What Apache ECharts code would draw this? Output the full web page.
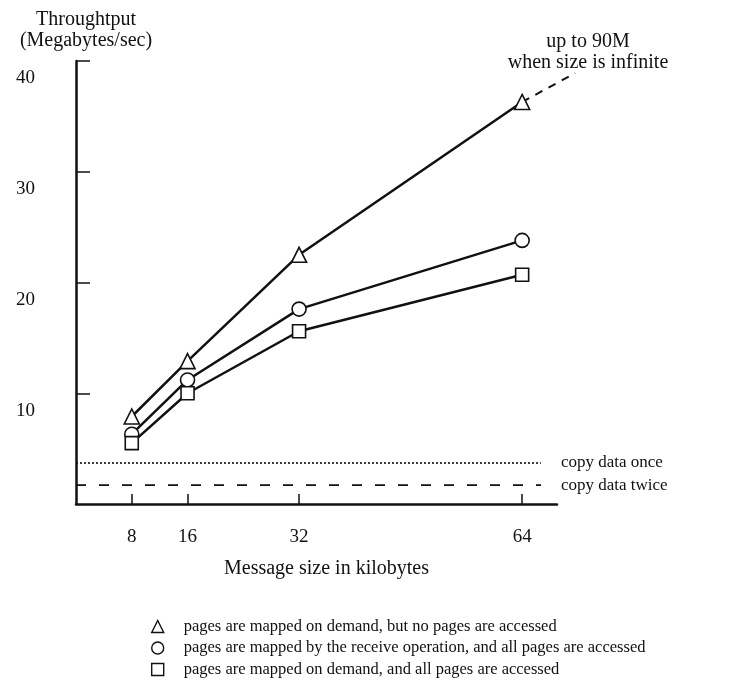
<!DOCTYPE html>
<html>
<head>
<meta charset="utf-8">
<script src="https://cdn.jsdelivr.net/npm/echarts@6/dist/echarts.min.js"></script>
<style>
  html, body { margin: 0; padding: 0; background: #fff; }
  #chart { width: 755px; height: 692px; }
</style>
</head>
<body>
<div id="chart"></div>
<script>
const MESSAGE_SIZES = [8, 16, 32, 64]
const NO_ACCESS = [7.9, 12.9, 22.5, 36.3]
const RECEIVE_MAPPED = [6.3, 11.2, 17.6, 23.8]
const DEMAND_ACCESSED = [5.5, 10.0, 15.6, 20.7]

// dashed extension towards the asymptote
const EXT_X = [64, 71.6]
const EXT_Y = [36.3, 38.9]

const COPY_ONCE = 3.7
const COPY_TWICE = 1.7
const COPY_X = [0, 66.7]

const Y_TICKS = [10, 20, 30, 40]

const SERIES_NAMES = [
  'pages are mapped on demand, but no pages are accessed',
  'pages are mapped by the receive operation, and all pages are accessed',
  'pages are mapped on demand, and all pages are accessed',
]

const FONT = '"Liberation Serif", "DejaVu Serif", serif'
const INK = '#111'

// main plot: 0..69 over 481px; wider hidden twin keeps the same px/unit
const X_MAX = 69
const PLOT_W = 481
const WIDE_W = 560

const pairs = (xs, ys) => xs.map((x, i) => [x, ys[i]])

function dataSeries(name, values, symbol, size) {
  return {
    name,
    type: 'line',
    data: pairs(MESSAGE_SIZES, values),
    symbol,
    symbolSize: size,
    showAllSymbol: true,
    lineStyle: { color: INK, width: 2.5 },
    itemStyle: { color: '#fff', borderColor: INK, borderWidth: 1.6 },
    z: 3,
  }
}

function refSeries(name, value, type, label) {
  return {
    name,
    type: 'line',
    data: pairs(COPY_X, COPY_X.map(() => value)),
    symbol: 'none',
    silent: true,
    lineStyle: { color: INK, width: 1.6, type },
    endLabel: {
      show: true,
      formatter: label,
      color: INK,
      fontFamily: FONT,
      fontSize: 17,
      distance: 20,
    },
  }
}

const chart = echarts.init(document.getElementById('chart'))
chart.setOption({
  animation: false,
  backgroundColor: '#fff',
  textStyle: { fontFamily: FONT, color: INK },
  title: {
    text: 'Throughtput\n(Megabytes/sec)',
    left: 81,
    top: 4,
    textAlign: 'center',
    textStyle: { fontFamily: FONT, fontSize: 20, fontWeight: 'normal', color: INK, lineHeight: 21 },
  },
  graphic: [
    {
      type: 'text',
      x: 588,
      y: 31,
      style: {
        text: 'up to 90M\nwhen size is infinite',
        font: '20px ' + FONT,
        fill: INK,
        align: 'center',
        lineHeight: 21,
      },
    },
  ],
  grid: [
    { left: 76, width: PLOT_W, top: 61, bottom: 188, containLabel: false },
    { left: 76, width: WIDE_W, top: 61, bottom: 188, containLabel: false },
  ],
  legend: {
    orient: 'vertical',
    left: 146,
    top: 613,
    itemWidth: 12,
    itemHeight: 12,
    itemGap: 4.5,
    data: [
      { name: SERIES_NAMES[0], icon: 'triangle' },
      { name: SERIES_NAMES[1], icon: 'circle' },
      { name: SERIES_NAMES[2], icon: 'rect' },
    ],
    itemStyle: { color: '#fff', borderColor: INK, borderWidth: 1.4 },
    textStyle: { fontFamily: FONT, fontSize: 16.5, color: INK, lineHeight: 16, padding: [0, 0, 0, 15] },
  },
  xAxis: [
    {
      type: 'value',
      gridIndex: 0,
      min: 0,
      max: X_MAX,
      name: 'Message size in kilobytes',
      nameLocation: 'middle',
      nameGap: 55,
      nameTextStyle: { fontFamily: FONT, fontSize: 20, color: INK, padding: [0, 0, 0, 20] },
      axisLine: { lineStyle: { color: INK, width: 2.5 } },
      axisTick: { inside: true, length: 10, lineStyle: { color: INK, width: 1.5 }, customValues: MESSAGE_SIZES },
      axisLabel: { customValues: MESSAGE_SIZES, margin: 24, fontFamily: FONT, fontSize: 19, color: INK },
      splitLine: { show: false },
    },
    {
      type: 'value',
      gridIndex: 1,
      min: 0,
      max: X_MAX * WIDE_W / PLOT_W,
      show: false,
    },
  ],
  yAxis: [
    {
      type: 'value',
      gridIndex: 0,
      min: 0,
      max: 40,
      interval: 10,
      axisLine: { show: true, lineStyle: { color: INK, width: 2.5 } },
      axisTick: { show: true, inside: true, length: 14, lineStyle: { color: INK, width: 1.5 }, customValues: Y_TICKS },
      axisLabel: {
        customValues: Y_TICKS,
        margin: 41,
        fontFamily: FONT,
        fontSize: 19,
        color: INK,
        verticalAlign: 'top',
        padding: [8, 0, 0, 0],
      },
      splitLine: { show: false },
    },
    { type: 'value', gridIndex: 1, min: 0, max: 40, show: false },
  ],
  series: [
    refSeries('copy once', COPY_ONCE, [2, 2], 'copy data once'),
    refSeries('copy twice', COPY_TWICE, [10, 13], 'copy data twice'),
    {
      name: 'extension',
      type: 'line',
      xAxisIndex: 1,
      yAxisIndex: 1,
      data: pairs(EXT_X, EXT_Y),
      symbol: 'none',
      silent: true,
      lineStyle: { color: INK, width: 2, type: [8, 7] },
      z: 2,
    },
    dataSeries(SERIES_NAMES[0], NO_ACCESS, 'triangle', 15),
    dataSeries(SERIES_NAMES[1], RECEIVE_MAPPED, 'circle', 14),
    dataSeries(SERIES_NAMES[2], DEMAND_ACCESSED, 'rect', 13),
  ],
})
</script>
</body>
</html>
